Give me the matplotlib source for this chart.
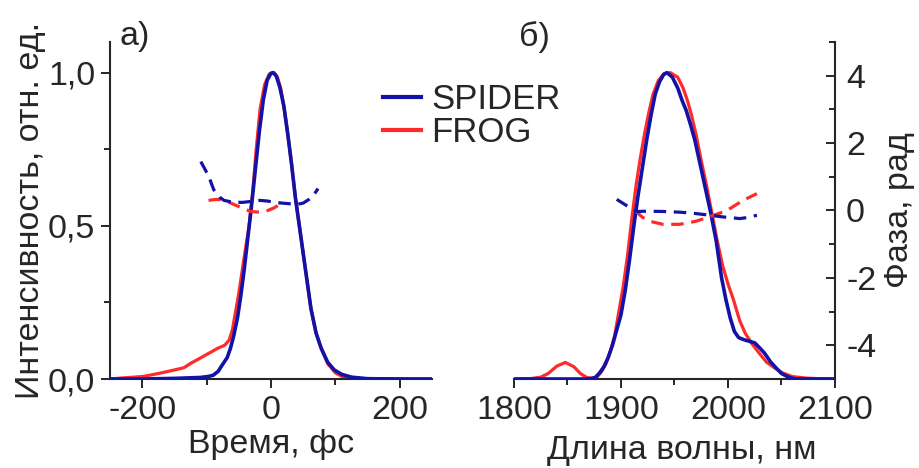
import matplotlib
matplotlib.use("Agg")
import matplotlib.pyplot as plt
from matplotlib.ticker import FixedLocator, FixedFormatter
from matplotlib.lines import Line2D

plt.rcParams['font.family'] = ['Liberation Sans', 'DejaVu Sans']
plt.rcParams['lines.scale_dashes'] = False

TXT = '#262626'
BLUE = '#1212a6'
RED = '#ff2a2a'

# ---------------- data: panel a (time domain) ----------------
t_spider = [-250, -200, -150, -110, -98, -90, -82, -76, -68, -63, -58, -52, -47, -42, -36, -30,
            -24, -18, -12, -6, 0, 3, 8, 14, 20, 26, 32, 38, 44, 50, 56, 62, 70, 78, 88, 98,
            110, 125, 150, 200, 250]
i_spider_t = [0, 0, 0.002, 0.005, 0.008, 0.012, 0.025, 0.045, 0.07, 0.1, 0.14, 0.2, 0.27, 0.35,
              0.46, 0.57, 0.69, 0.81, 0.91, 0.975, 0.998, 1.0, 0.99, 0.95, 0.89, 0.8, 0.7, 0.59,
              0.5, 0.41, 0.32, 0.23, 0.15, 0.1, 0.055, 0.03, 0.015, 0.006, 0.001, 0, 0]

t_frog = [-250, -233, -200, -187, -170, -151, -135, -124, -110, -100, -93, -83, -72, -65, -60,
          -55, -50, -45, -40, -34, -28, -23, -17, -10, -3, 5, 10, 15, 20, 26, 32, 38, 44, 50,
          56, 62, 70, 78, 88, 100, 112, 130, 250]
i_frog_t = [0, 0.003, 0.008, 0.013, 0.02, 0.029, 0.037, 0.052, 0.068, 0.08, 0.088, 0.1, 0.11,
            0.127, 0.16, 0.22, 0.28, 0.35, 0.42, 0.5, 0.62, 0.75, 0.88, 0.96, 0.995, 1.0, 0.985,
            0.95, 0.89, 0.8, 0.7, 0.59, 0.5, 0.41, 0.32, 0.23, 0.15, 0.1, 0.05, 0.02, 0.006,
            0.001, 0]

tp_spider = [-109, -97, -89, -80, -73, -60, -45, -30, -17, -5, 5, 23, 40, 50, 59, 66, 73]
ph_spider_t = [1.45, 1.03, 0.62, 0.4, 0.3, 0.25, 0.24, 0.27, 0.3, 0.28, 0.24, 0.21, 0.18, 0.22,
               0.33, 0.45, 0.65]
tp_frog = [-97, -85, -78, -66, -54, -42, -31, -18, -5, 5, 16]
ph_frog_t = [0.3, 0.33, 0.32, 0.25, 0.15, 0.05, -0.03, -0.05, 0.0, 0.08, 0.21]

# ---------------- data: panel b (spectral domain) ----------------
wl_spider = [1800, 1860, 1870, 1876, 1880, 1884, 1888, 1892, 1896, 1900, 1904, 1908, 1912, 1916,
             1920, 1924, 1928, 1932, 1936, 1940, 1943, 1948, 1953, 1957, 1961, 1965, 1969, 1974,
             1979, 1984, 1989, 1994, 1998, 2002, 2006, 2010, 2015, 2020, 2025, 2030, 2034, 2040,
             2045, 2050, 2056, 2062, 2070, 2100]
s_spider = [0, 0, 0, 0.005, 0.02, 0.04, 0.07, 0.11, 0.16, 0.21, 0.29, 0.39, 0.5, 0.6, 0.69,
            0.78, 0.86, 0.93, 0.97, 0.995, 1.0, 0.985, 0.95, 0.91, 0.876, 0.83, 0.78, 0.70,
            0.62, 0.54, 0.45, 0.33, 0.26, 0.2, 0.155, 0.135, 0.128, 0.123, 0.118, 0.1, 0.085,
            0.055, 0.036, 0.018, 0.007, 0.001, 0, 0]

wl_frog = [1800, 1815, 1825, 1832, 1840, 1848, 1856, 1862, 1868, 1874, 1878, 1882, 1886, 1890,
           1894, 1898, 1902, 1906, 1910, 1914, 1918, 1922, 1926, 1930, 1935, 1940, 1946, 1953,
           1958, 1962, 1966, 1970, 1975, 1980, 1985, 1990, 1995, 2000, 2005, 2011, 2016, 2022,
           2029, 2036, 2044, 2051, 2060, 2073, 2085, 2100]
s_frog = [0, 0.001, 0.006, 0.018, 0.042, 0.054, 0.04, 0.018, 0.005, 0.002, 0.008, 0.025, 0.05,
          0.09, 0.14, 0.22, 0.3, 0.4, 0.52, 0.63, 0.72, 0.8, 0.87, 0.93, 0.975, 0.995, 1.0,
          0.985, 0.95, 0.91, 0.86, 0.8, 0.713, 0.63, 0.54, 0.45, 0.37, 0.31, 0.26, 0.19, 0.15,
          0.117, 0.085, 0.055, 0.035, 0.02, 0.008, 0.003, 0.001, 0]

wp_spider = [1896, 1905, 1915, 1925, 1940, 1955, 1967, 1983, 1995, 2005, 2011, 2020, 2027]
ph_spider_w = [0.33, 0.15, -0.03, -0.02, -0.03, -0.05, -0.08, -0.14, -0.19, -0.22, -0.24, -0.2,
               -0.14]
wp_frog = [1913, 1920, 1927, 1939, 1955, 1970, 1986, 1999, 2014, 2027]
ph_frog_w = [0.0, -0.2, -0.32, -0.41, -0.41, -0.32, -0.15, 0.0, 0.3, 0.5]

# ticks
a_xticks = [-200, 0, 200]
a_xticklabels = ['-200', '0', '200']
a_xminor = [-100, 100]
a_yticks = [0.0, 0.5, 1.0]
a_yticklabels = ['0,0', '0,5', '1,0']
a_yminor = [0.25, 0.75]
b_xticks = [1800, 1900, 2000, 2100]
b_xticklabels = ['1800', '1900', '2000', '2100']
b_xminor = [1850, 1950, 2050]
b_yticks = [-4, -2, 0, 2, 4]
b_yticklabels = ['-4', '-2', '0', '2', '4']
b_yminor = [-3, -1, 1, 3, 5]

FS = 24.5
LW = 2.3
DASH = (9, 5.5)

fig = plt.figure(figsize=(9.2, 4.68), dpi=100)
W, H = 920, 468

def fax(x0, x1, ytop, ybot):
    return [x0 / W, 1 - ybot / H, (x1 - x0) / W, (ybot - ytop) / H]

def style_ticks(ax, which_axis, direction):
    ax.tick_params(axis=which_axis, which='major', direction=direction, length=6.5,
                   width=1.4, colors=TXT, labelsize=FS, pad=5)
    ax.tick_params(axis=which_axis, which='minor', direction=direction, length=4,
                   width=1.4, colors=TXT)

# ---------- panel a ----------
axa = fig.add_axes(fax(110, 432, 42, 379))
axa.plot(t_frog, i_frog_t, color=RED, lw=LW, zorder=2)
axa.plot(t_spider, i_spider_t, color=BLUE, lw=LW + 0.3, zorder=3)
axa.set_xlim(-250, 250)
axa.set_ylim(0, 1.1)
for s in ['top', 'right']:
    axa.spines[s].set_visible(False)
for s in ['left', 'bottom']:
    axa.spines[s].set_linewidth(1.5)
    axa.spines[s].set_color(TXT)
axa.xaxis.set_major_locator(FixedLocator(a_xticks))
axa.xaxis.set_major_formatter(FixedFormatter(a_xticklabels))
axa.xaxis.set_minor_locator(FixedLocator(a_xminor))
axa.yaxis.set_major_locator(FixedLocator(a_yticks))
axa.yaxis.set_major_formatter(FixedFormatter(a_yticklabels))
axa.yaxis.set_minor_locator(FixedLocator(a_yminor))
style_ticks(axa, 'x', 'out')
style_ticks(axa, 'y', 'out')
axa.tick_params(axis='y', which='major', pad=4)
axa.set_xlabel('Время, фс', fontsize=FS, color=TXT)
axa.xaxis.label.set_va('baseline')
axa.xaxis.set_label_coords((271 - 110) / 322, (379 - 453) / 337)
axa.set_ylabel('Интенсивность, отн. ед.', fontsize=FS, color=TXT)
axa.yaxis.label.set_va('center')
axa.yaxis.set_label_coords((30 - 110) / 322, (379 - 210) / 337)
axa.text((135 - 110) / 322, (379 - 37) / 337, 'a)', transform=axa.transAxes,
         fontsize=FS, color=TXT, ha='center', va='center')

axa2 = axa.twinx()
axa2.set_ylim(-5, 5)
axa2.axis('off')
axa2.plot(tp_frog, ph_frog_t, color=RED, lw=LW, dashes=DASH)
axa2.plot(tp_spider, ph_spider_t, color=BLUE, lw=LW, dashes=DASH)

# ---------- panel b ----------
axb = fig.add_axes(fax(514, 835, 42, 379))
axb.plot(wl_frog, s_frog, color=RED, lw=LW, zorder=2)
axb.plot(wl_spider, s_spider, color=BLUE, lw=LW + 0.3, zorder=3)
axb.set_xlim(1800, 2100)
axb.set_ylim(0, 1.1)
for s in ['top', 'right', 'left']:
    axb.spines[s].set_visible(False)
axb.spines['bottom'].set_linewidth(1.5)
axb.spines['bottom'].set_color(TXT)
axb.set_yticks([])
axb.xaxis.set_major_locator(FixedLocator(b_xticks))
axb.xaxis.set_major_formatter(FixedFormatter(b_xticklabels))
axb.xaxis.set_minor_locator(FixedLocator(b_xminor))
style_ticks(axb, 'x', 'out')
axb.set_xlabel('Длина волны, нм', fontsize=FS, color=TXT)
axb.xaxis.label.set_va('baseline')
axb.xaxis.set_label_coords((682 - 514) / 321, (379 - 459) / 337)
axb.text((534 - 514) / 321, (379 - 37) / 337, 'б)', transform=axb.transAxes,
         fontsize=FS, color=TXT, ha='center', va='center')

axb2 = axb.twinx()
axb2.set_ylim(-5, 5)
for s in ['top', 'left', 'bottom']:
    axb2.spines[s].set_visible(False)
axb2.spines['right'].set_linewidth(1.5)
axb2.spines['right'].set_color(TXT)
axb2.yaxis.set_major_locator(FixedLocator(b_yticks))
axb2.yaxis.set_major_formatter(FixedFormatter(b_yticklabels))
axb2.yaxis.set_minor_locator(FixedLocator(b_yminor))
style_ticks(axb2, 'y', 'in')
axb2.tick_params(axis='y', which='major', pad=8)
axb2.plot(wp_frog, ph_frog_w, color=RED, lw=LW, dashes=DASH)
axb2.plot(wp_spider, ph_spider_w, color=BLUE, lw=LW, dashes=DASH)
axb2.set_ylabel('Фаза, рад', fontsize=FS, color=TXT, rotation=90)
axb2.yaxis.label.set_va('center')
axb2.yaxis.set_label_coords((900 - 514) / 321, 0.5)

# ---------- legend ----------
handles = [Line2D([], [], color=BLUE, lw=3), Line2D([], [], color=RED, lw=3)]
leg = fig.legend(handles, ['SPIDER', 'FROG'], loc='center left',
                 bbox_to_anchor=(383 / W, 1 - 116 / H), frameon=False, fontsize=FS + 0.5,
                 handlelength=1.1, handletextpad=0.3, labelspacing=0.0, borderpad=0,
                 borderaxespad=0)
for txt in leg.get_texts():
    txt.set_color(TXT)

fig.savefig('out.png', dpi=100)
